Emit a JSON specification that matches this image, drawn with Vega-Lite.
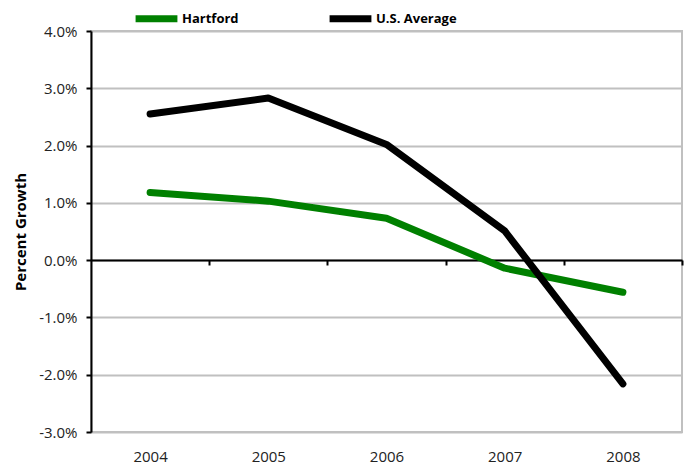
{
  "$schema": "https://vega.github.io/schema/vega-lite/v6.json",
  "width": 591,
  "height": 401,
  "autosize": {"type": "none"},
  "padding": {"left": 91, "top": 31, "right": 7, "bottom": 33},
  "background": "white",
  "config": {
    "view": {"stroke": "#c0c0c0", "strokeWidth": 2},
    "font": "Open Sans",
    "axis": {"labelFont": "Open Sans", "titleFont": "Open Sans"},
    "legend": {"labelFont": "Open Sans"}
  },
  "data": {
    "values": [
      {"year": "2004", "series": "Hartford", "value": 0.0118},
      {"year": "2005", "series": "Hartford", "value": 0.0103},
      {"year": "2006", "series": "Hartford", "value": 0.0073},
      {"year": "2007", "series": "Hartford", "value": -0.0014},
      {"year": "2008", "series": "Hartford", "value": -0.0056},
      {"year": "2004", "series": "U.S. Average", "value": 0.0255},
      {"year": "2005", "series": "U.S. Average", "value": 0.0283},
      {"year": "2006", "series": "U.S. Average", "value": 0.0202},
      {"year": "2007", "series": "U.S. Average", "value": 0.0051},
      {"year": "2008", "series": "U.S. Average", "value": -0.0216}
    ]
  },
  "encoding": {
    "y": {
      "field": "value", "type": "quantitative",
      "scale": {"domain": [-0.03, 0.04], "nice": false, "zero": false},
      "axis": {
        "title": "Percent Growth", "titleFontSize": 15, "titleFontWeight": "bold",
        "titleColor": "black", "titlePadding": 10,
        "values": [-0.03, -0.02, -0.01, 0, 0.01, 0.02, 0.03, 0.04],
        "labelExpr": "replace(format(datum.value, '.1%'), '\u2212', '-')",
        "labelFontSize": 15, "labelColor": "#222", "labelPadding": 9,
        "domain": true, "domainColor": "black", "domainWidth": 2,
        "ticks": true, "tickColor": "black", "tickWidth": 2, "tickSize": 5,
        "grid": true, "gridColor": "#c0c0c0", "gridWidth": 2
      }
    },
    "color": {
      "field": "series", "type": "nominal",
      "scale": {"domain": ["Hartford", "U.S. Average"], "range": ["#008000", "#000000"]},
      "legend": {
        "title": null, "orient": "none", "direction": "horizontal",
        "legendX": 41, "legendY": -37,
        "symbolType": "stroke", "symbolSize": 1750, "symbolStrokeWidth": 7,
        "labelFontSize": 13, "labelFontWeight": "bold", "labelColor": "black",
        "labelOffset": 1, "columnPadding": 76
      }
    }
  },
  "layer": [
    {
      "transform": [{"filter": "datum.series === 'Hartford'"}],
      "mark": {"type": "line", "strokeWidth": 7, "strokeCap": "round", "strokeJoin": "round"},
      "encoding": {
        "x": {
          "field": "year", "type": "ordinal",
          "scale": {"type": "point", "padding": 0.5},
          "axis": {
            "orient": "top", "offset": -229, "title": null, "zindex": 0,
            "labels": false, "domain": true, "domainColor": "black", "domainWidth": 2,
            "grid": false,
            "ticks": true, "tickSize": -5, "tickWidth": 2, "tickColor": "black",
            "tickOffset": 59
          }
        }
      }
    },
    {
      "transform": [{"filter": "datum.series === 'U.S. Average'"}],
      "mark": {"type": "line", "strokeWidth": 7, "strokeCap": "round", "strokeJoin": "round"},
      "encoding": {
        "x": {
          "field": "year", "type": "ordinal",
          "scale": {"type": "point", "padding": 0.5},
          "axis": {
            "orient": "bottom", "title": null, "labelAngle": 0,
            "domain": false, "ticks": false, "grid": false,
            "labelPadding": 17, "labelFontSize": 15, "labelColor": "#222"
          }
        }
      }
    }
  ],
  "resolve": {"axis": {"x": "independent"}}
}
